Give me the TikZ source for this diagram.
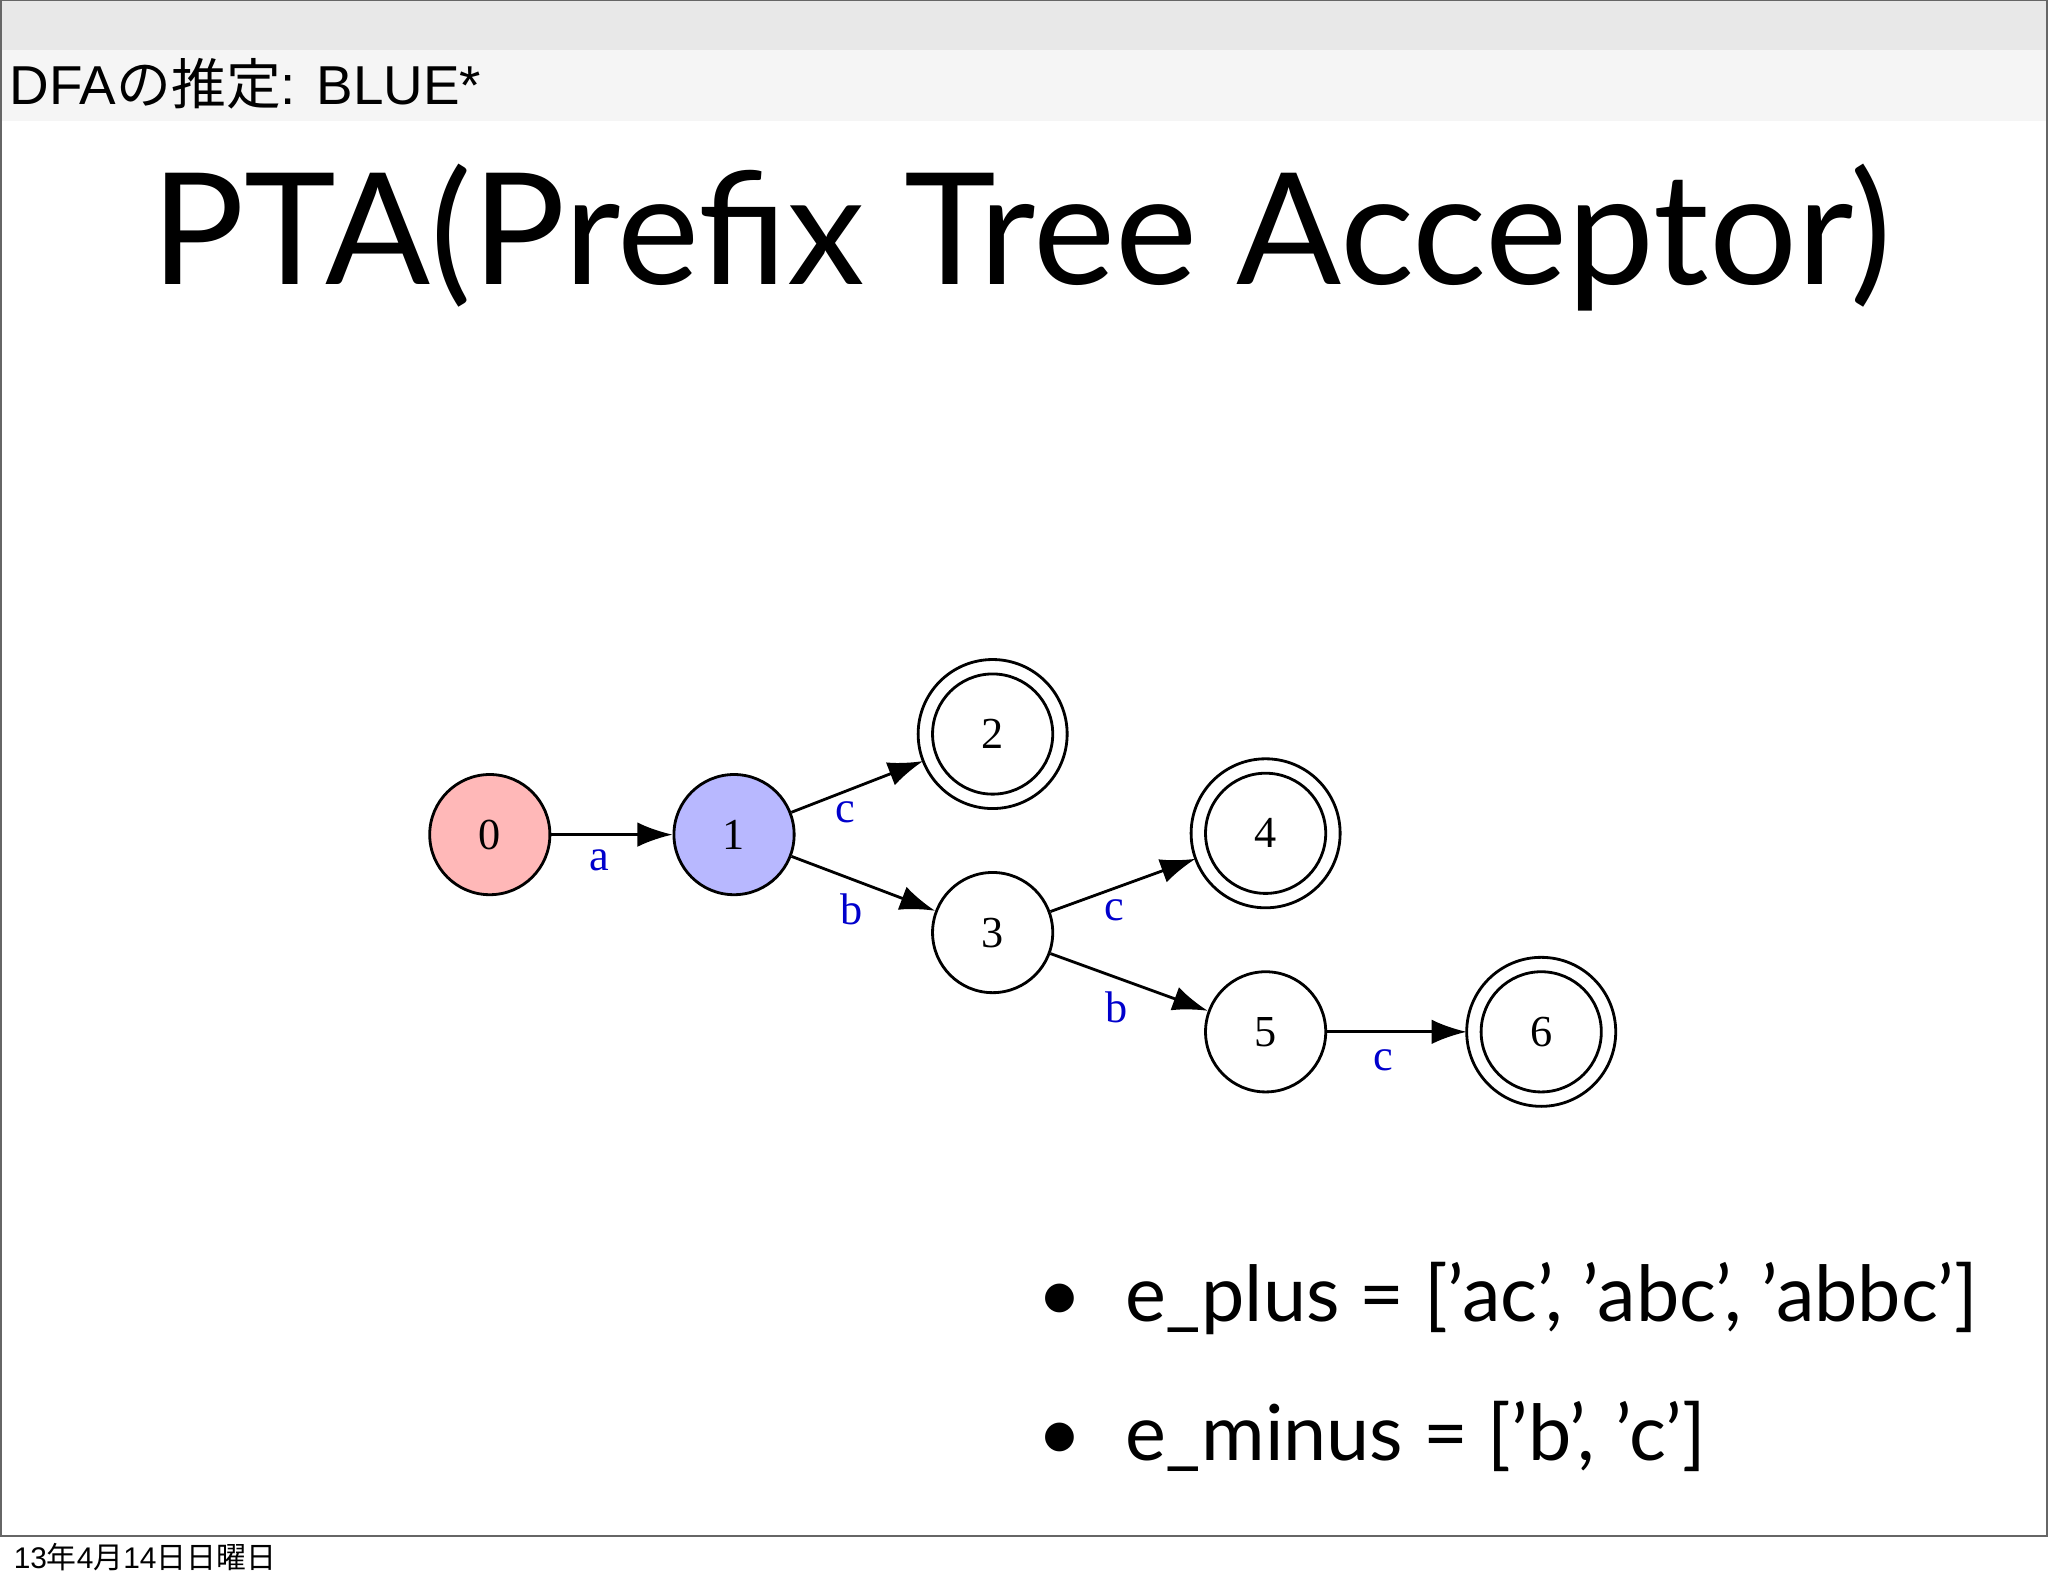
\documentclass[tikz,border=0pt]{standalone}
\usepackage{fontspec}
\setmainfont{Lato}
\newfontfamily\cjk{Noto Sans CJK JP}
\newfontfamily\hel{Liberation Sans}
\newfontfamily\tms{Liberation Serif}
\usetikzlibrary{arrows.meta,calc}
\newcommand{\sq}{\char"0027\relax}
\begin{document}
\begin{tikzpicture}[x=0.01306cm,y=-0.01306cm,
  st/.style={circle,draw,line width=0.8pt,minimum size=34.2pt,inner sep=0pt,font=\tms\fontsize{12.6}{14}\selectfont},
  ed/.style={-{Latex[length=10pt,width=7pt]},line width=0.8pt},
  lb/.style={font=\tms\fontsize{12.6}{14}\selectfont,text=blue!80!black,inner sep=0pt},
  bl/.style={font=\fontsize{22}{26}\selectfont,anchor=base west,inner sep=0pt}]
\useasboundingbox (0,0) rectangle (1568,1215);
\fill[white] (0,0) rectangle (1568,1215);
\fill[black!9] (0,0) rectangle (1568,38);
\fill[black!4] (0,38) rectangle (1568,93);
\draw[black!60,line width=0.6pt] (1,0) rectangle (1567,1176);
\node[anchor=base west,inner sep=0pt,font=\hel\fontsize{15.6}{18}\selectfont] (hd) at (7,80) {DFA{\cjk の推定}: BLUE*};
\node[anchor=base,inner sep=0pt,font=\fontsize{44.2}{50}\selectfont] (tt) at (782,218) {PTA(Prefix Tree Acceptor)};
\node[anchor=base west,inner sep=0pt,font=\hel\fontsize{8.5}{10}\selectfont] (ft) at (10,1201) {13{\cjk 年}4{\cjk 月}14{\cjk 日日曜日}};
\node[st,fill=red!28] (n0) at (375,639) {0};
\node[st,fill=blue!28] (n1) at (562,639) {1};
\node[st] (n2) at (760,562) {2};
\node[st] (n3) at (760,714) {3};
\node[st] (n4) at (969,638) {4};
\node[st] (n5) at (969,790) {5};
\node[st] (n6) at (1180,790) {6};
\foreach \n in {n2,n4,n6} \draw[line width=0.8pt] (\n) circle[radius=21.2pt];
\draw[ed] (n0) -- (n1);
\draw[ed] (n1) -- ($(n2)!21.2pt!(n1)$);
\draw[ed] (n1) -- (n3);
\draw[ed] (n3) -- ($(n4)!21.2pt!(n3)$);
\draw[ed] (n3) -- (n5);
\draw[ed] (n5) -- ($(n6)!21.2pt!(n5)$);
\node[lb] (la) at (459,659) {a};
\node[lb] (lc1) at (647,622) {c};
\node[lb] (lb1) at (652,696) {b};
\node[lb] (lc2) at (853,697) {c};
\node[lb] (lb2) at (855,771) {b};
\node[lb] (lc3) at (1059,812) {c};
\node[bl] (b1) at (794,1012) {\textbullet\hspace{0.55em}e\_plus = [\sq ac\sq, \sq abc\sq, \sq abbc\sq]};
\node[bl] (b2) at (794,1118) {\textbullet\hspace{0.55em}e\_minus = [\sq b\sq, \sq c\sq]};
\end{tikzpicture}
\end{document}
